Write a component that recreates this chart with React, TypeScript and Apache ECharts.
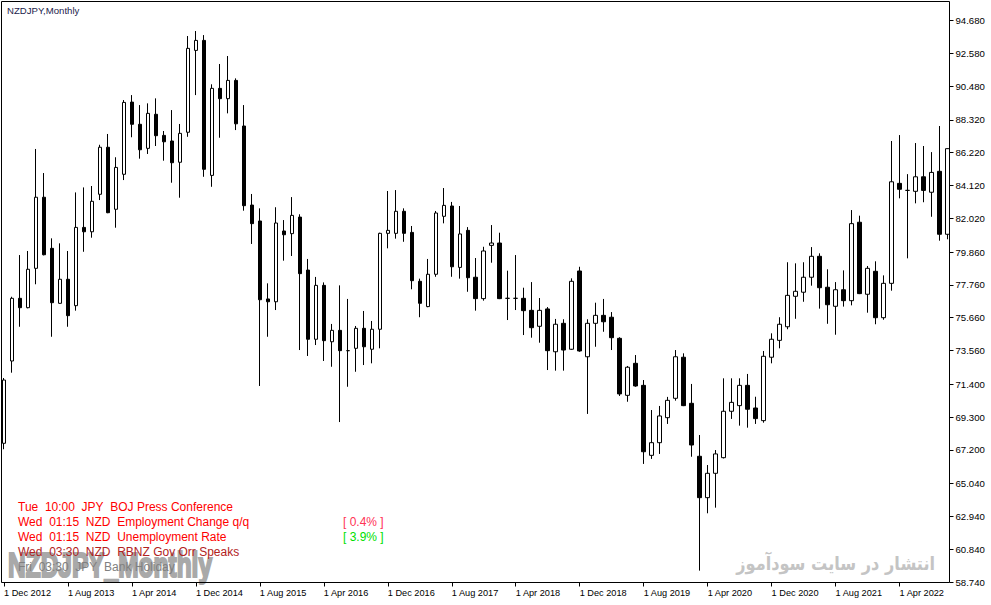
import React, { useEffect, useRef } from "react";
import * as echarts from "echarts";

const MONTHS = ["Jan", "Feb", "Mar", "Apr", "May", "Jun", "Jul", "Aug", "Sep", "Oct", "Nov", "Dec"];
const START_YEAR = 2012;
const START_MONTH = 11; // Dec

const OPEN = [
  67.62, 72.89, 76.90, 76.30, 78.82, 83.37, 80.10, 76.58, 78.12, 76.43,
  81.44, 81.16, 83.56, 86.57, 82.60, 84.84, 89.46, 88.04, 86.50, 88.68,
  87.33, 86.97, 85.61, 87.53, 92.77, 93.41, 84.77, 90.34, 89.68, 90.85,
  87.93, 82.87, 81.85, 76.86, 76.68, 81.21, 81.04, 82.10, 78.71, 74.28,
  77.73, 74.12, 74.85, 73.55, 73.70, 74.98, 73.64, 74.92, 81.06, 81.06,
  82.47, 81.12, 77.99, 76.37, 78.44, 82.15, 82.81, 78.88, 81.25, 78.25,
  76.88, 80.29, 80.44, 76.90, 76.90, 76.90, 76.13, 75.11, 76.22, 73.48,
  75.30, 73.64, 78.65, 73.16, 75.30, 75.81, 75.69, 74.34, 70.69, 72.74,
  71.33, 66.85, 67.66, 69.26, 70.50, 73.13, 70.18, 66.79, 64.14, 65.70,
  66.70, 69.67, 70.03, 71.33, 69.88, 69.07, 73.13, 74.21, 75.08, 77.03,
  77.29, 78.25, 79.59, 77.61, 76.39, 77.45, 76.75, 81.77, 77.16, 78.63,
  75.66, 77.86, 84.26, 83.81, 83.75, 84.68, 83.69, 85.03, 81.00,
];
const CLOSE = [
  71.67, 76.90, 76.30, 78.76, 83.37, 79.69, 76.62, 78.12, 75.79, 81.44,
  81.16, 83.11, 86.57, 82.38, 85.28, 89.44, 88.04, 86.41, 88.74, 87.31,
  86.92, 85.58, 87.46, 92.90, 93.41, 85.16, 90.34, 89.68, 90.85, 88.07,
  82.83, 81.68, 76.81, 76.68, 81.72, 80.97, 82.21, 78.48, 74.28, 77.73,
  74.19, 74.85, 73.55, 73.55, 74.98, 73.80, 74.92, 81.06, 81.25, 82.47,
  81.06, 78.03, 76.58, 78.44, 82.36, 82.85, 78.92, 81.02, 78.22, 76.88,
  79.93, 80.44, 76.88, 76.90, 76.90, 76.11, 75.02, 76.13, 73.55, 75.24,
  73.59, 77.99, 73.53, 75.30, 75.81, 75.40, 74.38, 70.78, 72.49, 71.29,
  67.08, 67.66, 69.37, 70.37, 73.16, 70.03, 67.51, 64.14, 65.70, 66.94,
  69.67, 70.24, 71.33, 69.80, 69.20, 73.19, 74.28, 75.24, 77.09, 77.35,
  78.25, 79.59, 77.58, 76.49, 77.45, 76.75, 81.68, 77.20, 78.82, 75.66,
  77.86, 84.36, 83.88, 83.81, 84.68, 83.81, 84.96, 81.00, 86.48,
];
const LOW = [
  67.24, 72.14, 75.08, 76.26, 77.80, 79.65, 74.44, 76.55, 75.08, 76.11,
  79.88, 80.78, 83.19, 82.35, 81.42, 84.47, 87.21, 85.84, 86.14, 86.65,
  85.71, 84.30, 83.34, 87.24, 89.91, 84.68, 84.04, 87.18, 88.74, 87.67,
  82.51, 80.38, 71.29, 74.44, 76.15, 79.31, 79.61, 73.59, 73.21, 73.91,
  72.89, 72.52, 68.98, 71.24, 72.20, 72.63, 72.74, 73.70, 80.10, 80.72,
  80.52, 77.48, 75.69, 76.33, 78.28, 81.70, 78.28, 78.16, 77.32, 76.11,
  76.75, 79.18, 76.85, 75.51, 76.15, 74.55, 74.38, 74.06, 72.31, 72.27,
  72.27, 73.60, 73.48, 69.50, 73.80, 74.76, 73.59, 70.65, 70.28, 71.24,
  66.30, 66.62, 66.94, 68.86, 70.35, 70.00, 66.76, 59.47, 63.14, 63.50,
  66.65, 69.18, 68.75, 68.62, 68.86, 68.94, 72.74, 73.70, 74.92, 75.59,
  76.68, 77.71, 76.24, 75.27, 74.57, 76.37, 76.45, 77.17, 75.98, 75.24,
  75.53, 77.39, 83.30, 79.46, 82.98, 83.05, 82.12, 80.59, 80.68,
];
const HIGH = [
  71.80, 77.00, 79.67, 79.93, 86.46, 84.92, 80.74, 80.42, 79.93, 83.68,
  84.00, 84.09, 86.73, 87.42, 85.93, 89.59, 89.91, 89.27, 89.38, 89.70,
  87.61, 88.95, 88.06, 93.69, 94.01, 93.75, 90.60, 91.90, 92.41, 90.98,
  89.27, 83.58, 82.66, 77.86, 82.73, 81.91, 83.38, 82.28, 79.42, 78.27,
  77.92, 75.26, 77.73, 76.86, 75.13, 76.09, 75.45, 81.10, 83.77, 83.83,
  82.66, 81.53, 78.16, 79.42, 82.49, 83.96, 83.07, 82.81, 81.46, 79.48,
  80.20, 81.59, 81.10, 78.67, 79.67, 77.58, 77.94, 76.92, 76.34, 75.58,
  75.56, 78.18, 78.92, 75.56, 76.62, 76.86, 76.02, 74.41, 72.57, 73.27,
  71.67, 69.75, 70.01, 70.59, 73.59, 73.38, 71.42, 68.15, 66.23, 67.19,
  71.78, 71.78, 71.78, 72.06, 70.60, 73.53, 74.66, 75.69, 79.21, 79.14,
  79.21, 80.18, 79.78, 78.76, 77.94, 78.69, 82.55, 82.19, 78.97, 79.27,
  78.37, 86.97, 87.35, 84.85, 86.84, 86.65, 86.26, 87.93, 86.50,
];

const Y_TICKS = [
  58.74, 60.84, 62.94, 65.04, 67.2, 69.3, 71.4, 73.56, 75.66, 77.76,
  79.86, 82.02, 84.12, 86.22, 88.32, 90.48, 92.58, 94.68,
];

const CATEGORIES = OPEN.map((_, i) => {
  const m = START_MONTH + i;
  return `1 ${MONTHS[m % 12]} ${START_YEAR + Math.floor(m / 12)}`;
});

const TITLE = "NZDJPY,Monthly";
const WATERMARK = "NZDJPY_Monthly";
const SITE_MARK = "انتشار در سایت سودآموز";
const NB = "\u00a0\u00a0";
const EVENTS = [
  { text: `Tue${NB}10:00${NB}JPY${NB}BOJ Press Conference`, color: "#ff0000", value: "", valueColor: "" },
  { text: `Wed${NB}01:15${NB}NZD${NB}Employment Change q/q`, color: "#ff0000", value: "[ 0.4% ]", valueColor: "#ff3355" },
  { text: `Wed${NB}01:15${NB}NZD${NB}Unemployment Rate`, color: "#ff0000", value: "[ 3.9% ]", valueColor: "#00e000" },
  { text: `Wed${NB}03:30${NB}NZD${NB}RBNZ Gov Orr Speaks`, color: "#b22222", value: "", valueColor: "" },
  { text: `Fri${NB}03:30${NB}JPY${NB}Bank Holiday`, color: "#808080", value: "", valueColor: "" },
];

export default function App() {
  const ref = useRef<HTMLDivElement>(null);
  useEffect(() => {
    if (!ref.current) return;
    const chart = echarts.init(ref.current, null, { renderer: "svg" });
    const data = OPEN.map((o, i) => [o, CLOSE[i], LOW[i], HIGH[i]]);
    const font = "Liberation Sans, Arial, sans-serif";

    const eventEls: any[] = [];
    EVENTS.forEach((ev, r) => {
      const y = 506.5 + r * 15;
      eventEls.push({
        type: "text",
        x: 18,
        y,
        z: 20,
        silent: true,
        style: { text: ev.text, fontSize: 12, fontFamily: font, fill: ev.color, align: "left", verticalAlign: "middle", textAlign: "left", textVerticalAlign: "middle" },
      });
      if (ev.value) {
        eventEls.push({
          type: "text",
          x: 343,
          y,
          z: 20,
          silent: true,
          style: { text: ev.value, fontSize: 12, fontFamily: font, fill: ev.valueColor, align: "left", verticalAlign: "middle", textAlign: "left", textVerticalAlign: "middle" },
        });
      }
    });

    chart.setOption({
      animation: false,
      backgroundColor: "#ffffff",
      grid: { left: -0.5, top: 1.5, width: 952, bottom: 22.5, containLabel: false },
      xAxis: {
        type: "category",
        data: CATEGORIES,
        boundaryGap: true,
        axisLine: { show: false },
        axisTick: { show: true, interval: 7, alignWithLabel: true, length: 4, lineStyle: { color: "#000000", width: 1 } },
        axisLabel: { interval: 7, align: "left", margin: 6, fontSize: 9.2, color: "#000000", fontFamily: font },
        splitLine: { show: false },
      },
      yAxis: {
        type: "value",
        position: "right",
        offset: -2,
        min: 58.71,
        max: 95.9,
        axisLine: { show: false },
        axisTick: { show: true, length: 4, customValues: Y_TICKS, lineStyle: { color: "#000000", width: 1 } },
        axisLabel: { customValues: Y_TICKS, formatter: (v: number) => v.toFixed(3), margin: 6, fontSize: 9.6, color: "#000000", fontFamily: font },
        splitLine: { show: false },
      },
      series: [
        {
          type: "candlestick",
          data,
          barWidth: 4,
          itemStyle: { color: "#ffffff", color0: "#000000", borderColor: "#000000", borderColor0: "#000000", borderWidth: 1 },
        },
      ],
      graphic: [
        {
          type: "text",
          x: 8,
          y: 565,
          scaleX: 0.7,
          z: 1,
          silent: true,
          style: { text: WATERMARK, fontSize: 35, fontWeight: "bold", fontFamily: font, fill: "#a9a9a9", stroke: "#a9a9a9", lineWidth: 2.2, align: "left", verticalAlign: "middle", textAlign: "left", textVerticalAlign: "middle" },
        },
        {
          type: "text",
          x: 935,
          y: 564,
          scaleX: 0.85,
          z: 1,
          silent: true,
          style: { text: SITE_MARK, fontSize: 19, fontWeight: "bold", fontFamily: "DejaVu Sans, sans-serif", fill: "#c4c4c4", align: "right", verticalAlign: "middle", textAlign: "right", textVerticalAlign: "middle" },
        },
        ...eventEls,
        {
          type: "text",
          x: 7,
          y: 10,
          z: 20,
          silent: true,
          style: { text: TITLE, fontSize: 9.6, fontFamily: font, fill: "#1c1c4c", align: "left", verticalAlign: "middle", textAlign: "left", textVerticalAlign: "middle" },
        },
        {
          type: "rect",
          z: 30,
          silent: true,
          shape: { x: 1.5, y: 1.5, width: 948, height: 581 },
          style: { fill: "none", stroke: "#000000", lineWidth: 1 },
        },
      ],
    });
    return () => chart.dispose();
  }, []);
  return (
    <div
      ref={ref}
      style={{ position: "fixed", left: 0, top: 0, width: 991, height: 605, background: "#ffffff" }}
    />
  );
}
